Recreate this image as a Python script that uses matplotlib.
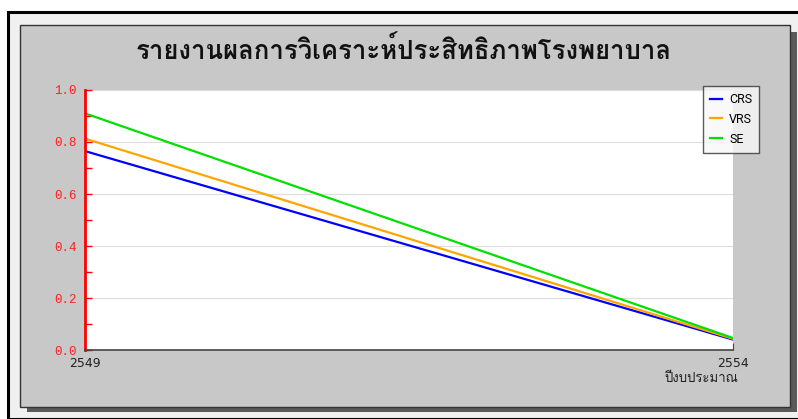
import matplotlib
matplotlib.use('Agg')
import matplotlib.pyplot as plt
from matplotlib import font_manager
from matplotlib.ft2font import FT2Font
from matplotlib.patches import Rectangle

# data
years = [2549, 2554]
crs = [0.765, 0.040]
vrs = [0.813, 0.043]
se = [0.910, 0.046]
series_names = ['CRS', 'VRS', 'SE']
title_text = 'รายงานผลการวิเคราะห์ประสิทธิภาพโรงพยาบาล'
xlabel_text = 'ปีงบประมาณ'

W, H = 798, 419


# find some installed font that has thai glyphs
def thai_fonts():
    found = []
    for f in font_manager.fontManager.ttflist:
        try:
            if 0x0E23 in FT2Font(f.fname).get_charmap():
                if f.name not in found:
                    found.append(f.name)
        except Exception:
            pass
    return found

THAI = thai_fonts()
FAM = THAI + ['DejaVu Sans']


def fx(x):
    return x / W

def fy(y):
    return 1 - y / H


fig = plt.figure(figsize=(W / 100, H / 100), dpi=100)
fig.patch.set_facecolor('white')

# outer frame
fig.patches.append(Rectangle((fx(8), 0), 1, fy(12), transform=fig.transFigure,
                             facecolor='#f0f0f0', edgecolor='black', lw=2.2, zorder=0))
# shadow + gray panel
fig.patches.append(Rectangle((fx(27), fy(412)), fx(770), fy(32) - fy(412),
                             transform=fig.transFigure, facecolor='#5a5a5a', edgecolor='none', zorder=1))
fig.patches.append(Rectangle((fx(20), fy(407)), fx(770), fy(25) - fy(407),
                             transform=fig.transFigure, facecolor='#c8c8c8', edgecolor='#333333', lw=1, zorder=2))

ax = fig.add_axes([fx(85), fy(350), fx(733) - fx(85), fy(90) - fy(350)])
ax.set_zorder(3)
ax.set_facecolor('white')

ax.plot(years, crs, color='#0000ff', lw=1.6, label=series_names[0])
ax.plot(years, vrs, color='#ffa500', lw=1.6, label=series_names[1])
ax.plot(years, se, color='#00e000', lw=1.6, label=series_names[2])

ax.set_xlim(years[0], years[-1])
ax.set_ylim(0, 1.0)
ax.set_yticks([0.0, 0.2, 0.4, 0.6, 0.8, 1.0])
ax.set_yticks([0.1, 0.3, 0.5, 0.7, 0.9], minor=True)
ax.set_yticklabels(['%.1f' % v for v in [0.0, 0.2, 0.4, 0.6, 0.8, 1.0]],
                   family='Liberation Mono', fontsize=9, color='#ff2020')
ax.grid(axis='y', color='#dddddd', lw=0.8)
ax.set_axisbelow(True)

for s in ['top', 'right']:
    ax.spines[s].set_visible(False)
ax.spines['left'].set_color('red')
ax.spines['left'].set_linewidth(2)
ax.spines['bottom'].set_color('#444444')
ax.spines['bottom'].set_linewidth(1.2)
ax.tick_params(axis='y', which='both', direction='in', color='red', length=5, width=1, pad=6)
ax.tick_params(axis='x', direction='in', color='#444444', length=5, labelsize=9,
               labelcolor='#222222', pad=5)
ax.set_xticks(years)
ax.set_xticklabels([str(y) for y in years])

leg = ax.legend(loc='upper right', bbox_to_anchor=(fx(759), fy(86)),
                bbox_transform=fig.transFigure, frameon=True, fancybox=False,
                handlelength=0.9, handletextpad=0.6, borderpad=0.55, labelspacing=0.55,
                borderaxespad=0, prop={'family': 'Roboto', 'size': 9})
leg.get_frame().set_edgecolor('#333333')
leg.get_frame().set_facecolor('#f8f8f8')
leg.get_frame().set_linewidth(1)

fig.text(fx(404), fy(50), title_text, ha='center', va='center', fontsize=18.5,
         family=FAM, weight='semibold', color='#111111', zorder=5)
fig.text(fx(738), fy(379), xlabel_text, ha='right', va='center', fontsize=9.5,
         family=FAM, color='#222222', zorder=5)

fig.savefig('out.png', dpi=100)
